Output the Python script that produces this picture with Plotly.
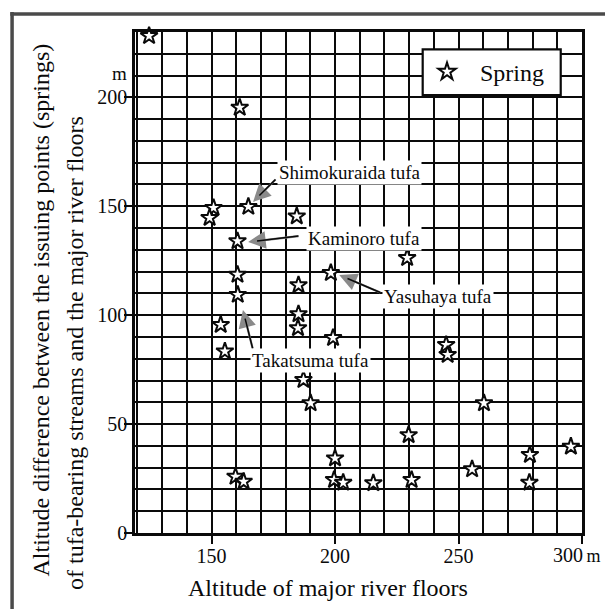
import plotly.graph_objects as go

# ---- data ----
river_floor_alt = [124.7, 161.4, 150.8, 149.2, 164.9, 160.5, 160.5, 160.6, 153.7, 155.4,
                   159.7, 163.0, 184.5, 185.2, 185.2, 185.0, 198.3, 229.2, 199.2, 187.2,
                   190.1, 200.0, 199.6, 203.3, 215.5, 229.8, 231.0, 245.0, 245.6, 255.5,
                   260.3, 278.9, 278.7, 295.5]
alt_difference = [228.2, 195.3, 149.3, 144.7, 149.8, 134.0, 118.6, 109.4, 95.6, 83.4,
                  25.9, 23.6, 145.4, 113.8, 100.5, 94.1, 119.4, 126.3, 89.6, 70.3,
                  59.6, 34.3, 24.4, 23.1, 22.9, 45.0, 24.4, 86.4, 81.8, 29.3,
                  59.6, 35.9, 23.1, 39.7]

x_tickvals = [150, 200, 250, 300]
x_ticktext = ["150", "200", "250", ""]          # last label drawn with its unit below
x_last_label = "300<span style='font-size:18px'>\u2009m</span>"
y_tickvals = [0, 50, 100, 150, 200]
y_ticktext = ["0", "50", "100", "150", "200"]

# labelled springs: name, tip (x, y), tail (x, y), text left (x, y)
labels = [
    ("Shimokuraida tufa", (166.8, 152.0), (176.5, 163.0), (176.5, 165.7)),
    ("Kaminoro tufa",     (164.8, 133.6), (185.8, 136.4), (188.2, 135.4)),
    ("Yasuhaya tufa",     (201.7, 118.5), (218.9, 110.1), (218.9, 108.8)),
    ("Takatsuma tufa",    (162.7, 102.4), (166.8, 84.0),  (165.6, 79.4)),
]

FONT = "Liberation Serif, Times New Roman, serif"
INK = "#0a0a0a"

fig = go.Figure()
fig.add_trace(go.Scatter(
    x=river_floor_alt, y=alt_difference, mode="markers", name="Spring",
    marker=dict(symbol="star", size=13, color="white",
                line=dict(color=INK, width=2)),
    cliponaxis=False,
))

annotations = []
for name, tip, tail, txt in labels:
    # gray arrow head
    annotations.append(dict(x=tip[0], y=tip[1], ax=tail[0], ay=tail[1],
                            xref="x", yref="y", axref="x", ayref="y", text="",
                            showarrow=True, arrowhead=2, arrowsize=1.6,
                            arrowwidth=2.2, arrowcolor="#8a8a8a"))
    # black shaft
    annotations.append(dict(x=tip[0], y=tip[1], ax=tail[0], ay=tail[1],
                            xref="x", yref="y", axref="x", ayref="y", text="",
                            showarrow=True, arrowhead=0, arrowwidth=1.5,
                            arrowcolor=INK, standoff=9))
    annotations.append(dict(x=txt[0], y=txt[1], xref="x", yref="y", text=name,
                            showarrow=False, xanchor="left", yanchor="middle",
                            bgcolor="white", borderpad=1,
                            font=dict(family=FONT, size=19, color=INK)))

# axis titles, units and the final x label
annotations += [
    dict(x=1.047, y=-0.0439, xref="paper", yref="paper", text=x_last_label,
         showarrow=False, xanchor="right", yanchor="middle",
         font=dict(family=FONT, size=20, color=INK)),
    dict(x=0.4318, y=-0.1098, xref="paper", yref="paper",
         text="Altitude of major river floors", showarrow=False,
         xanchor="center", yanchor="middle",
         font=dict(family=FONT, size=24, color=INK)),
    dict(x=-0.2125, y=0.4441, xref="paper", yref="paper", textangle=-90,
         text="Altitude difference between the issuing points (springs)",
         showarrow=False, xanchor="center", yanchor="middle",
         font=dict(family=FONT, size=24, color=INK)),
    dict(x=-0.1342, y=0.3593, xref="paper", yref="paper", textangle=-90,
         text="of tufa-bearing streams and the major river floors",
         showarrow=False, xanchor="center", yanchor="middle",
         font=dict(family=FONT, size=24, color=INK)),
    dict(x=-0.0336, y=0.918, xref="paper", yref="paper", text="m",
         showarrow=False, xanchor="center", yanchor="middle",
         font=dict(family=FONT, size=19, color=INK)),
]

shapes = [
    # outer frame (top and left edges)
    dict(type="line", xref="paper", yref="paper", x0=-0.279, x1=1.06,
         y0=1.036, y1=1.036, line=dict(color="#4a4a4a", width=3.5)),
    dict(type="line", xref="paper", yref="paper", x0=-0.275, x1=-0.275,
         y0=1.04, y1=-0.16, line=dict(color="#4a4a4a", width=3.5)),
    # legend box
    dict(type="rect", xref="paper", yref="paper", x0=0.6436, x1=0.9524,
         y0=0.8743, y1=0.9655, layer="above", fillcolor="white",
         line=dict(color=INK, width=2.2)),
]

grid = dict(showgrid=True, gridcolor=INK, gridwidth=1.8)
fig.update_layout(
    width=605, height=609,
    margin=dict(l=135, r=23, t=32, b=76, autoexpand=False),
    paper_bgcolor="white", plot_bgcolor="white",
    font=dict(family=FONT, size=20, color=INK),
    xaxis=dict(range=[119, 300], tickmode="array", tickvals=x_tickvals,
               ticktext=x_ticktext, ticks="outside", ticklen=8, tickwidth=2,
               tickcolor=INK, showline=True, mirror=True, linecolor=INK,
               linewidth=2.6, zeroline=False, ticklabelstandoff=-5,
               automargin=False,
               minor=dict(dtick=10, tick0=0, ticks="", **grid), **grid),
    yaxis=dict(range=[0, 230], tickmode="array", tickvals=y_tickvals,
               ticktext=y_ticktext, ticks="outside", ticklen=8, tickwidth=2,
               tickcolor=INK, showline=True, mirror=True, linecolor=INK,
               linewidth=2.6, zeroline=False, ticklabelstandoff=-7,
               automargin=False,
               minor=dict(dtick=10, tick0=0, ticks="", **grid), **grid),
    showlegend=True,
    legend=dict(x=0.6242, y=0.920, xanchor="left", yanchor="middle",
                bgcolor="rgba(0,0,0,0)", borderwidth=0,
                itemwidth=56, font=dict(family=FONT, size=24, color=INK)),
    annotations=annotations,
    shapes=shapes,
)

fig.write_html("out.html")
